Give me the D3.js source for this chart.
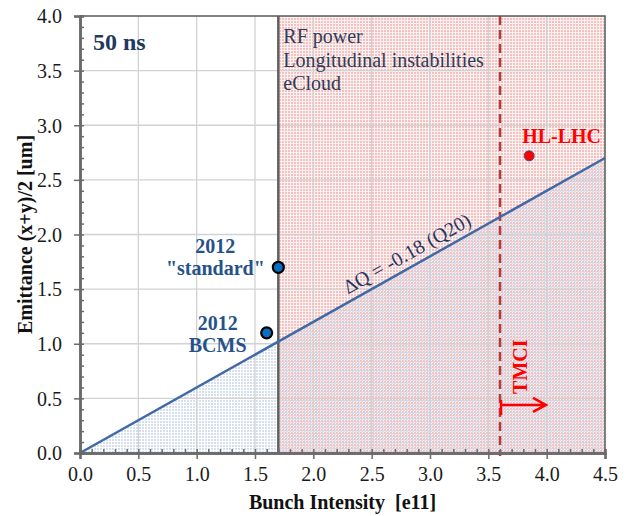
<!DOCTYPE html>
<html>
<head>
<meta charset="utf-8">
<script src="https://cdn.jsdelivr.net/npm/d3@7"></script>
<style>
  body { margin: 0; background: #fff; }
  svg { display: block; font-family: "Liberation Serif", "Times New Roman", serif; }
</style>
</head>
<body>
<svg id="chart" width="630" height="516"></svg>
<script>
// chart values
const xDomain = [0, 4.5];
const yDomain = [0, 4.0];
const dqLineX = [0, 4.5];          // ΔQ = -0.18 (Q20) limit line
const dqLineY = [0, 2.7];
const rfLimitX = 1.7;              // RF power / longitudinal / eCloud limit
const tmciX = 3.6;                 // TMCI threshold
const tmciArrowY = 0.44;
const pointNames = ['2012 "standard"', '2012 BCMS', 'HL-LHC'];
const pointX = [1.7, 1.6, 3.85];
const pointY = [1.7, 1.1, 2.72];
const rfLabel = ['RF power', 'Longitudinal instabilities', 'eCloud'];

const svg = d3.select('#chart');
const plotL = 80, plotR = 605, plotT = 16, plotB = 453;
const serif = '"Liberation Serif", "Times New Roman", serif';

const x = d3.scaleLinear().domain(xDomain).range([plotL, plotR]);
const y = d3.scaleLinear().domain(yDomain).range([plotB, plotT]);

// dotted fill patterns
const defs = svg.append('defs');
const pink = defs.append('pattern').attr('id', 'pinkDots')
    .attr('patternUnits', 'userSpaceOnUse').attr('width', 3).attr('height', 3);
pink.append('rect').attr('width', 3).attr('height', 3).attr('fill', '#fdf2f2');
pink.append('rect').attr('width', 2).attr('height', 2).attr('fill', '#f4c0c0');

const blue = defs.append('pattern').attr('id', 'blueDots')
    .attr('patternUnits', 'userSpaceOnUse').attr('width', 3).attr('height', 3);
blue.append('rect').attr('x', 1).attr('y', 1).attr('width', 2).attr('height', 2).attr('fill', '#cfd9ea');

// pink zone right of the RF limit
svg.append('rect')
    .attr('x', x(rfLimitX)).attr('y', y(yDomain[1]))
    .attr('width', x(xDomain[1]) - x(rfLimitX))
    .attr('height', y(0) - y(yDomain[1]))
    .attr('fill', 'url(#pinkDots)');

// blue zone under the ΔQ line
const lineData = dqLineX.map((d, i) => [d, dqLineY[i]]);
svg.append('path')
    .datum(lineData)
    .attr('d', d3.area().x(d => x(d[0])).y0(y(0)).y1(d => y(d[1])))
    .attr('fill', 'url(#blueDots)')
    .attr('opacity', 0.85);

// gridlines
svg.append('g').selectAll('line')
    .data(x.ticks(9).filter(d => d > 0 && d < 4.5))
    .join('line')
    .attr('x1', d => x(d)).attr('x2', d => x(d))
    .attr('y1', plotT).attr('y2', plotB)
    .attr('stroke', '#d2d2d2').attr('stroke-width', 1.3);
svg.append('g').selectAll('line')
    .data(y.ticks(8).filter(d => d > 0 && d < 4))
    .join('line')
    .attr('x1', plotL).attr('x2', plotR)
    .attr('y1', d => y(d)).attr('y2', d => y(d))
    .attr('stroke', '#d2d2d2').attr('stroke-width', 1.3);

// frame top/right
svg.append('path')
    .attr('d', `M${plotL},${plotT}H${plotR}V${plotB}`)
    .attr('fill', 'none').attr('stroke', '#5a5a5a').attr('stroke-width', 1.5);

// RF limit vertical line
svg.append('line')
    .attr('x1', x(rfLimitX)).attr('x2', x(rfLimitX))
    .attr('y1', plotT).attr('y2', plotB)
    .attr('stroke', '#5f5f5f').attr('stroke-width', 2.5);

// TMCI dashed line
svg.append('line')
    .attr('x1', x(tmciX)).attr('x2', x(tmciX))
    .attr('y1', plotT).attr('y2', plotB + 3)
    .attr('stroke', '#b03c3c').attr('stroke-width', 2.5)
    .attr('stroke-dasharray', '9,5');

// ΔQ line
svg.append('path')
    .datum(lineData)
    .attr('d', d3.line().x(d => x(d[0])).y(d => y(d[1])))
    .attr('fill', 'none').attr('stroke', '#4169a6').attr('stroke-width', 2.5);

// axes
const xAxis = svg.append('g').attr('transform', `translate(0,${plotB})`);
xAxis.call(d3.axisBottom(x).ticks(9).tickSize(6).tickFormat(d3.format('.1f')));
const xMinor = svg.append('g').attr('transform', `translate(0,${plotB})`);
xMinor.call(d3.axisTop(x).tickValues(d3.range(0, 4.5001, 0.1)).tickSize(4).tickFormat(''));

const yAxis = svg.append('g').attr('transform', `translate(${plotL},0)`);
yAxis.call(d3.axisLeft(y).ticks(8).tickSize(6).tickFormat(d3.format('.1f')));
const yMinor = svg.append('g').attr('transform', `translate(${plotL},0)`);
yMinor.call(d3.axisRight(y).tickValues(d3.range(0, 4.0001, 0.1)).tickSize(4).tickFormat(''));

[xAxis, xMinor, yAxis, yMinor].forEach(g => {
    g.attr('font-family', serif);
    g.select('.domain').attr('stroke', '#6a6a6a').attr('stroke-width', 2.5);
    g.selectAll('.tick line').attr('stroke', '#6a6a6a').attr('stroke-width', 1.5);
    g.selectAll('.tick text')
        .attr('font-family', serif)
        .attr('font-size', 20).attr('fill', '#1a1a1a');
});
xAxis.selectAll('.tick text').attr('y', 14).attr('dy', '0.71em');
yAxis.selectAll('.tick text').attr('x', -18).attr('dy', '0.34em');

// axis titles
svg.append('text')
    .attr('x', (plotL + plotR) / 2).attr('y', 509)
    .attr('text-anchor', 'middle')
    .attr('font-size', 20).attr('font-weight', 'bold').attr('fill', '#111')
    .attr('xml:space', 'preserve')
    .text('Bunch Intensity  [e11]');
svg.append('text')
    .attr('transform', `translate(32,${(plotT + plotB) / 2}) rotate(-90)`)
    .attr('text-anchor', 'middle')
    .attr('font-size', 20).attr('font-weight', 'bold').attr('fill', '#111')
    .text('Emittance (x+y)/2 [um]');

// annotations
svg.append('text')
    .attr('x', 93).attr('y', 50)
    .attr('font-size', 24).attr('font-weight', 'bold').attr('fill', '#1f3a5f')
    .text('50 ns');

svg.append('text')
    .attr('font-size', 20).attr('fill', '#2e3e5a')
    .selectAll('tspan')
    .data(rfLabel)
    .join('tspan')
    .attr('x', x(rfLimitX) + 5)
    .attr('y', (d, i) => 43 + i * 23.5)
    .text(d => d);

// ΔQ label rotated along the line
const lx = 2.86;
const ly = dqLineY[1] / dqLineX[1] * lx;
const angle = Math.atan2(y(dqLineY[1]) - y(0), x(dqLineX[1]) - x(0)) * 180 / Math.PI;
svg.append('text')
    .attr('transform', `translate(${x(lx)},${y(ly)}) rotate(${angle})`)
    .attr('dy', -7)
    .attr('text-anchor', 'middle')
    .attr('font-size', 20).attr('fill', '#1f3864')
    .text('ΔQ = -0.18 (Q20)');

// TMCI arrow + label
const tx = x(tmciX), ty = y(tmciArrowY);
svg.append('path')
    .attr('d', `M${tx + 1},${ty - 5}V${ty + 10}M${tx},${ty}H${tx + 46}M${tx + 33},${ty - 7}L${tx + 46},${ty}L${tx + 33},${ty + 7}`)
    .attr('fill', 'none').attr('stroke', '#ff0000').attr('stroke-width', 2.5);
svg.append('text')
    .attr('transform', `translate(${tx + 27},${ty - 11}) rotate(-90)`)
    .attr('font-size', 20).attr('font-weight', 'bold').attr('fill', '#ff0000')
    .text('TMCI');

// data points
const pointFill = ['#0a6fc2', '#0a6fc2', '#ff0000'];
const pointStroke = ['#000', '#000', '#4a4a8a'];
const pointR = [5.5, 5.5, 5];
svg.append('g').selectAll('circle')
    .data(pointNames)
    .join('circle')
    .attr('cx', (d, i) => x(pointX[i]))
    .attr('cy', (d, i) => y(pointY[i]))
    .attr('r', (d, i) => pointR[i])
    .attr('fill', (d, i) => pointFill[i])
    .attr('stroke', (d, i) => pointStroke[i])
    .attr('stroke-width', (d, i) => i < 2 ? 2.2 : 1);

// point labels
const labelLines = [['2012', '"standard"'], ['2012', 'BCMS'], ['HL-LHC']];
const labelDx = [-63, -49, -7];
const labelDy = [[-14, 8], [-3, 19], [-13]];
const labelAnchor = ['middle', 'middle', 'start'];
const labelColor = ['#26528a', '#26528a', '#ff0000'];
pointNames.forEach((name, i) => {
    svg.append('text')
        .attr('font-size', 20).attr('font-weight', 'bold')
        .attr('fill', labelColor[i])
        .attr('text-anchor', labelAnchor[i])
        .selectAll('tspan')
        .data(labelLines[i])
        .join('tspan')
        .attr('x', x(pointX[i]) + labelDx[i])
        .attr('y', (d, j) => y(pointY[i]) + labelDy[i][j])
        .text(d => d);
});
</script>
</body>
</html>
